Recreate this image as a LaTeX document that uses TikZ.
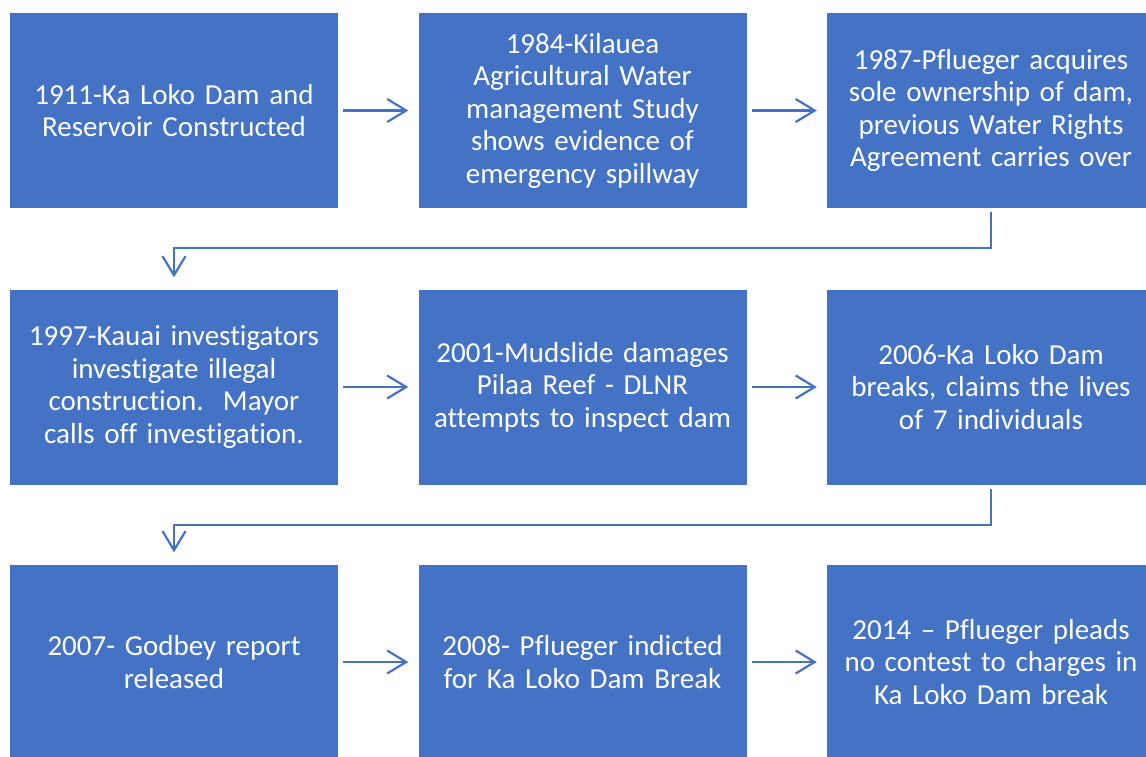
\documentclass[tikz,border=0pt]{standalone}
\usepackage{fontspec}
\setmainfont[Ligatures=CommonOff]{Carlito}
\usepackage{tikz}
\usetikzlibrary{arrows.meta}
\definecolor{boxblue}{HTML}{4472C4}
\tikzset{
  event/.style={fill=boxblue,text=white,minimum width=328pt,minimum height=195pt,
    inner sep=0pt,text width=320pt,align=center,font=\fontsize{29}{32.5}\selectfont},
  link/.style={draw=boxblue,line width=2.2pt,-{Straight Barb[length=19pt,width=23pt,line width=2.2pt]}}
}
\begin{document}
\begin{tikzpicture}[x=1pt,y=-1pt]
\useasboundingbox (0,0) rectangle (1146,756);
\clip (0,0) rectangle (1146,756);
\node[event] (e1911) at (174,110.5) {1911-Ka Loko Dam and\\Reservoir Constructed};
\node[event] (e1984) at (582.5,110.5) {1984-Kilauea\\Agricultural Water\\management Study\\shows evidence of\\emergency spillway};
\node[event] (e1987) at (991,110.5) {1987-Pflueger acquires\\sole ownership of dam,\\previous Water Rights\\Agreement carries over};
\node[event] (e1997) at (174,387) {1997-Kauai investigators\\investigate illegal\\construction.\ \ Mayor\\calls off investigation.};
\node[event] (e2001) at (582.5,387) {2001-Mudslide damages\\Pilaa Reef - DLNR\\attempts to inspect dam};
\node[event] (e2006) at (991,387) {2006-Ka Loko Dam\\breaks, claims the lives\\of 7 individuals};
\node[event] (e2007) at (174,662) {2007- Godbey report\\released};
\node[event] (e2008) at (582.5,662) {2008- Pflueger indicted\\for Ka Loko Dam Break};
\node[event] (e2014) at (991,662) {2014 – Pflueger pleads\\no contest to charges in\\Ka Loko Dam break};
% rows
\draw[link] ([xshift=5pt]e1911.east) -- ([xshift=-10pt]e1984.west);
\draw[link] ([xshift=5pt]e1984.east) -- ([xshift=-10pt]e1987.west);
\draw[link] ([xshift=5pt]e1997.east) -- ([xshift=-10pt]e2001.west);
\draw[link] ([xshift=5pt]e2001.east) -- ([xshift=-10pt]e2006.west);
\draw[link] ([xshift=5pt]e2007.east) -- ([xshift=-10pt]e2008.west);
\draw[link] ([xshift=5pt]e2008.east) -- ([xshift=-10pt]e2014.west);
% row to row
\draw[link] ([yshift=-4pt]e1987.south) -- ++(0,36) -| ([yshift=12pt]e1997.north);
\draw[link] ([yshift=-4pt]e2006.south) -- ++(0,36) -| ([yshift=12pt]e2007.north);
\end{tikzpicture}
\end{document}
